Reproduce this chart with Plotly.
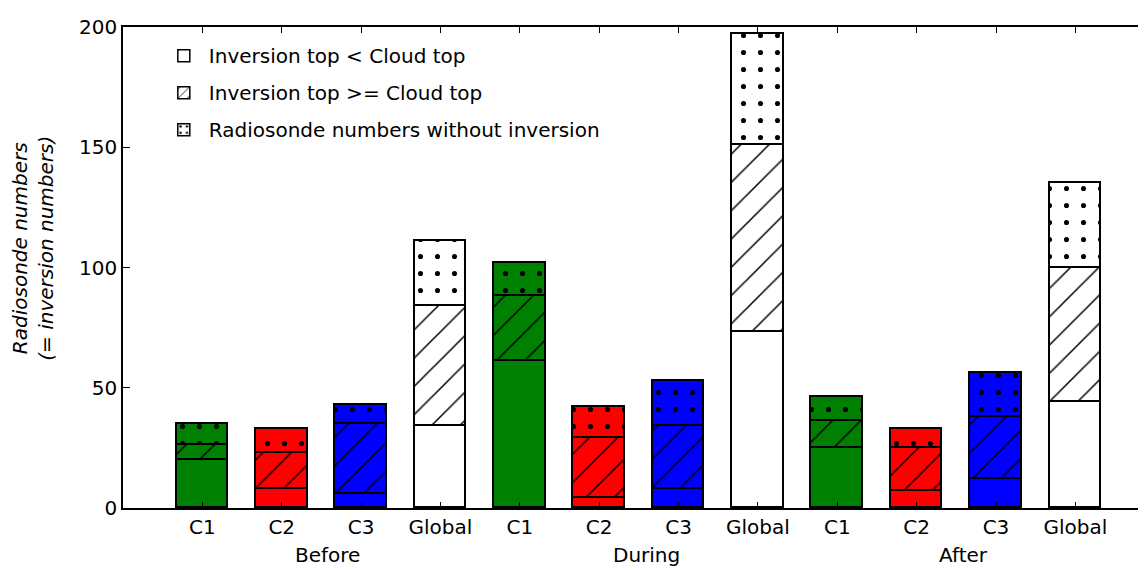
import plotly.graph_objects as go

categories = ["C1", "C2", "C3", "Global"] * 3
periods = ["Before", "During", "After"]
bar_colors = ["#008000", "#ff0000", "#0000ff", "#ffffff"] * 3

below_cloud = [20, 8, 6, 34, 61, 4, 8, 73, 25, 7, 12, 44]
above_cloud = [6, 15, 29, 50, 27, 25, 26, 78, 11, 18, 26, 56]
no_inversion = [9, 10, 8, 27, 14, 13, 19, 46, 10, 8, 18, 35]

legend_names = ["Inversion top < Cloud top",
                "Inversion top >= Cloud top",
                "Radiosonde numbers without inversion"]

x = list(range(1, len(categories) + 1))
FONT = "DejaVu Sans"

fig = go.Figure()

layers = [(below_cloud, "", 20, 0.075), (above_cloud, "/", 20, 0.075), (no_inversion, ".", 17, 0.07)]
unique_colors = ["#008000", "#ff0000", "#0000ff", "#ffffff"]
for vals, shape, size, sol in layers:
    for col in unique_colors:
        idx = [i for i, c in enumerate(bar_colors) if c == col]
        fig.add_trace(go.Bar(
            x=[x[i] for i in idx], y=[vals[i] for i in idx], width=0.65, showlegend=False,
            marker=dict(color=col, line=dict(color="black", width=1.6),
                        pattern=dict(shape=shape, fgcolor="#000000", fgopacity=1, bgcolor=col,
                                     size=size, solidity=sol, fillmode="overlay")),
        ))

for (vals, shape, size, sol), name in zip(layers, legend_names):
    fig.add_trace(go.Bar(
        x=[None], y=[None], name=name, legendgroup=name,
        marker=dict(color="white", line=dict(color="black", width=1.5),
                    pattern=dict(shape=shape, fgcolor="#000000", fgopacity=1, bgcolor="white",
                                 size=8, solidity=0.12, fillmode="overlay")),
    ))

group_centers = [2.58, 6.6, 10.59]
for p, c in zip(periods, group_centers):
    fig.add_annotation(x=c, y=0, xref="x", yref="paper", text=p, showarrow=False,
                       yanchor="middle", yshift=-47, font=dict(family=FONT, size=20, color="black"))

fig.add_annotation(x=-0.088, y=0.541, xref="paper", yref="paper",
                   text="<i>Radiosonde numbers<br>(= inversion numbers)</i>",
                   textangle=-90, showarrow=False, xanchor="center", yanchor="middle",
                   font=dict(family=FONT, size=20, color="black"))

fig.update_layout(
    width=1138, height=562,
    margin=dict(l=115, r=0, t=19, b=62),
    barmode="stack", bargap=0,
    plot_bgcolor="white", paper_bgcolor="white",
    font=dict(family=FONT, size=20, color="black"),
    legend=dict(x=0.035, y=0.981, xanchor="left", yanchor="top",
                bgcolor="rgba(255,255,255,0)", font=dict(size=20),
                tracegroupgap=8, itemwidth=40),
    xaxis=dict(range=[0, 12.89], tickmode="array", tickvals=x, ticktext=categories,
               ticks="inside", ticklen=6, tickwidth=1, tickcolor="black",
               showline=True, linecolor="black", linewidth=1.5, mirror="ticks",
               showgrid=False, zeroline=False),
    yaxis=dict(range=[0, 200], tickvals=[0, 50, 100, 150, 200],
               ticks="inside", ticklen=7, tickwidth=1, tickcolor="black",
               showline=True, linecolor="black", linewidth=1.5, mirror=False,
               showgrid=False, zeroline=False),
)

fig.write_html("out.html")
